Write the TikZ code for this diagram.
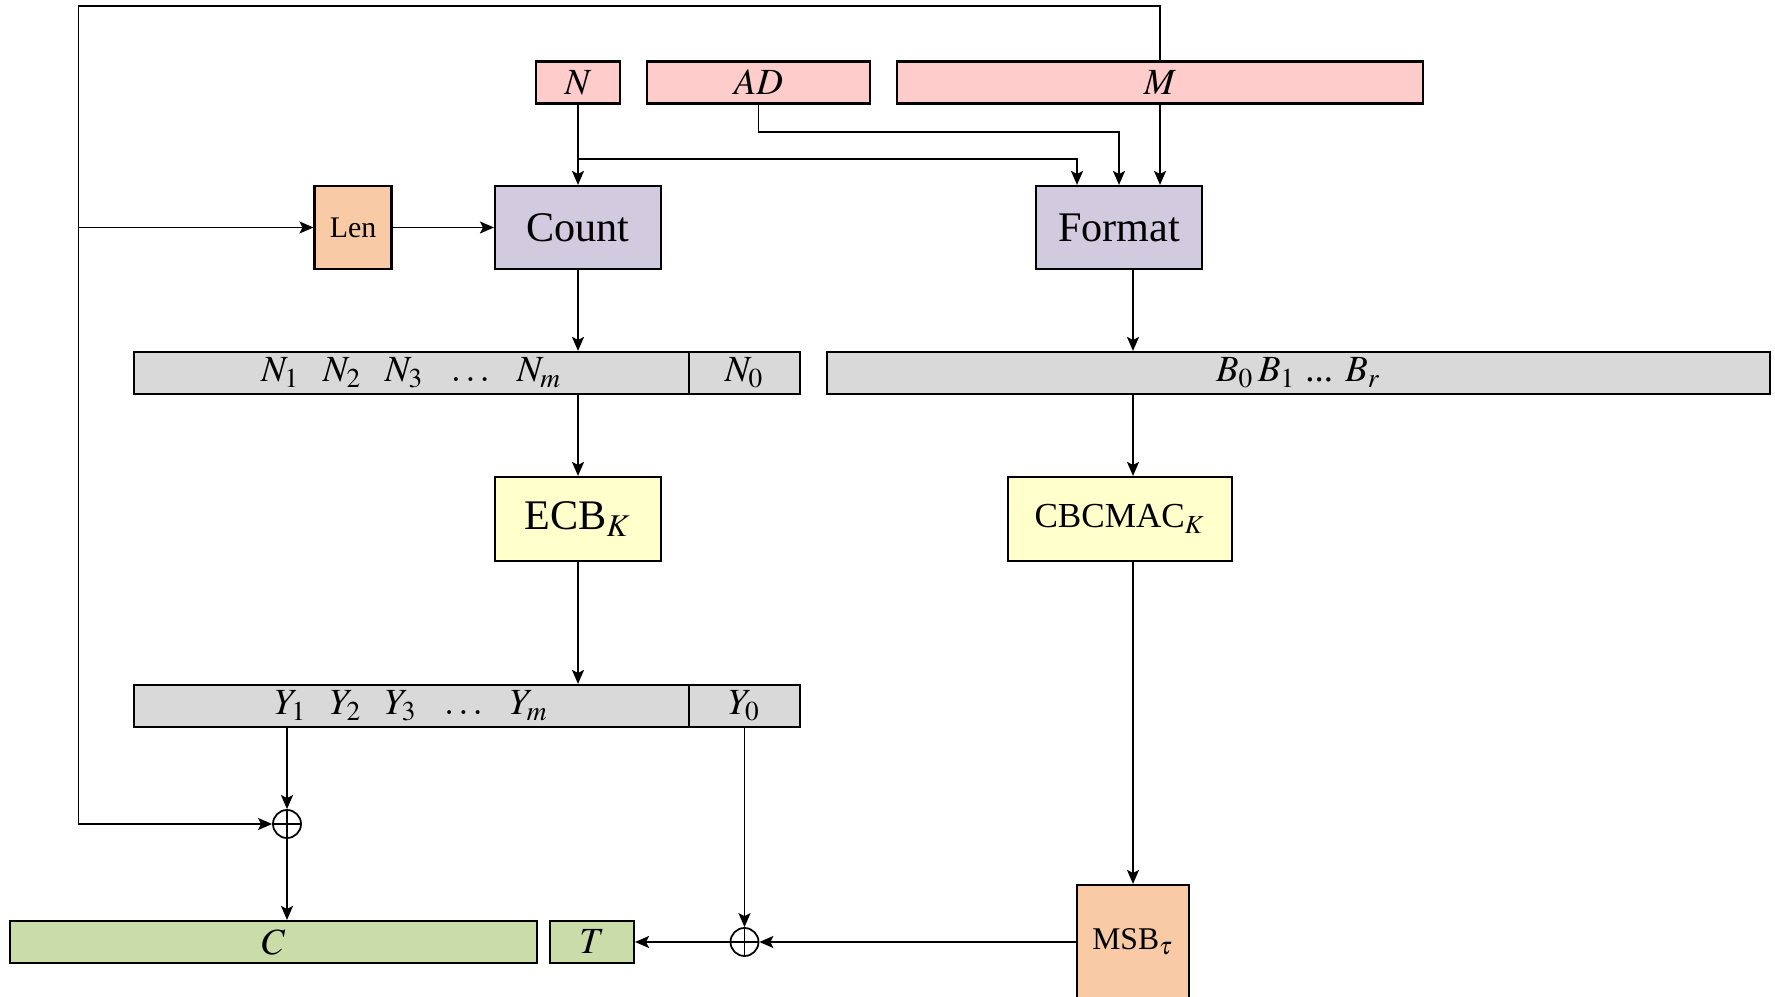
\documentclass[tikz,border=0pt]{standalone}
\usepackage{mathptmx}
\usepackage{fontspec}
\setmainfont{Liberation Serif}
\usetikzlibrary{arrows.meta}

\definecolor{eingang}{RGB}{255,204,204}
\definecolor{lila}{RGB}{210,203,224}
\definecolor{pfirsich}{RGB}{248,203,166}
\definecolor{grau}{RGB}{217,217,217}
\definecolor{gelb}{RGB}{255,255,204}
\definecolor{gruen}{RGB}{202,220,168}

\newcommand{\lk}{\hspace{6.5pt}}

\tikzset{
	feld/.style={draw, line width=0.6pt, inner sep=0pt, minimum height=0.42cm, font=\fontsize{10.5}{12}\selectfont},
	block/.style={draw, line width=0.6pt, inner sep=0pt, minimum height=0.83cm, font=\fontsize{12}{14}\selectfont},
	linie/.style={line width=0.5pt},
	pfeil/.style={line width=0.5pt, -{Stealth[length=1.4mm,width=1.2mm,inset=0.3mm]}},
	xor/.style={circle, draw, line width=0.5pt, minimum size=0.28cm, inner sep=0pt,
		path picture={\draw [line width=0.5pt] (path picture bounding box.north) -- (path picture bounding box.south) (path picture bounding box.west) -- (path picture bounding box.east);}}
}

\begin{document}
\begin{tikzpicture}
		\useasboundingbox (0,0) rectangle (17.75,-9.97);
		% Eingaben
		\node [feld, fill=eingang, minimum width=0.84cm] (N) at (5.78,-0.825) {$N$};
		\node [feld, fill=eingang, minimum width=2.23cm] (AD) at (7.585,-0.825) {$AD$};
		\node [feld, fill=eingang, minimum width=5.26cm] (M) at (11.6,-0.825) {$M$};
		% Zähler und Formatierung
		\node [block, fill=pfirsich, minimum width=0.77cm, font=\fontsize{8.5}{10}\selectfont] (Len) at (3.53,-2.275) {Len};
		\node [block, fill=lila, minimum width=1.66cm] (Count) at (5.78,-2.275) {Count};
		\node [block, fill=lila, minimum width=1.66cm] (Format) at (11.19,-2.275) {Format};
		% Blöcke
		\node [feld, fill=grau, minimum width=5.55cm] (Nfolge) at (4.115,-3.73) {$N_1\lk N_2\lk N_3\lk\ldots\lk N_m$};
		\node [feld, fill=grau, minimum width=1.11cm] (Nnull) at (7.445,-3.73) {$N_0$};
		\node [feld, fill=grau, minimum width=9.43cm] (B) at (12.985,-3.73) {$B_0\,B_1$ ... $B_r$};
		% Verschlüsselung
		\node [block, fill=gelb, minimum width=1.66cm, minimum height=0.84cm] (ECB) at (5.78,-5.19) {ECB$_K$};
		\node [block, fill=gelb, minimum width=2.24cm, minimum height=0.84cm, font=\fontsize{10}{12}\selectfont] (CBCMAC) at (11.2,-5.19) {CBCMAC$_K$};
		\node [feld, fill=grau, minimum width=5.55cm] (Yfolge) at (4.115,-7.06) {$Y_1\lk Y_2\lk Y_3\lk\ldots\lk Y_m$};
		\node [feld, fill=grau, minimum width=1.11cm] (Ynull) at (7.445,-7.06) {$Y_0$};
		% Ausgaben
		\node [xor] (xorC) at (2.87,-8.24) {};
		\node [xor] (xorT) at (7.445,-9.42) {};
		\node [feld, fill=gruen, minimum width=5.27cm] (C) at (2.735,-9.42) {$C$};
		\node [feld, fill=gruen, minimum width=0.84cm] (T) at (5.92,-9.42) {$T$};
		\node [block, fill=pfirsich, minimum width=1.12cm, minimum height=1.14cm, font=\fontsize{9}{11}\selectfont] (MSB) at (11.33,-9.42) {MSB$_\tau$};
		% Rückführung von M
		\coordinate (ecke) at (0.786,-0.06);
		\draw [pfeil] (M.north) |- (ecke) |- (xorC.west);
		\draw [pfeil] (ecke |- Len.west) -- (Len.west);
		\draw [pfeil] (Len.east) -- (Count.west);
		% Eingänge zu Count und Format
		\coordinate (abzweig) at (5.78,-1.587);
		\draw [pfeil] (N.south) -- (Count.north);
		\draw [pfeil] (abzweig) -| ([xshift=-0.42cm]Format.north);
		\draw [pfeil] (AD.south) -- ++(0,-0.275) -| (Format.north);
		\draw [pfeil] (M.south) -- (M.south |- Format.north);
		% linker Zweig
		\draw [pfeil] (Count.south) -- (Count.south |- Nfolge.north);
		\draw [pfeil] (ECB.north |- Nfolge.south) -- (ECB.north);
		\draw [pfeil] (ECB.south) -- (ECB.south |- Yfolge.north);
		\draw [pfeil] (xorC.north |- Yfolge.south) -- (xorC.north);
		\draw [pfeil] (xorC.south) -- (xorC.south |- C.north);
		\draw [pfeil] (Ynull.south) -- (xorT.north);
		% rechter Zweig
		\draw [pfeil] (MSB.north |- Format.south) -- (MSB.north |- B.north);
		\draw [pfeil] (MSB.north |- B.south) -- (MSB.north |- CBCMAC.north);
		\draw [pfeil] (MSB.north |- CBCMAC.south) -- (MSB.north);
		\draw [pfeil] (MSB.west) -- (xorT.east);
		\draw [pfeil] (xorT.west) -- (T.east);
\end{tikzpicture}
\end{document}
